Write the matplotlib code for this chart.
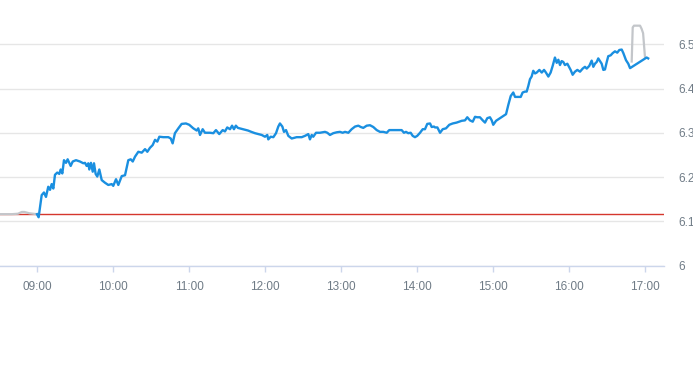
import matplotlib.pyplot as plt

# minutes after 09:00 and price
minutes = [0, 1.3, 3.7, 5.5, 7.1, 8.9, 10.3, 11.6, 12.9, 14.2, 16.0, 17.6, 18.7, 20.0,
           21.3, 22.9, 24.2, 25.5, 26.6, 28.2, 30.8, 33.9, 36.6, 37.9, 39.2, 40.5, 41.3,
           42.6, 44.0, 45.0, 46.3, 47.6, 49.2, 51.1, 53.7, 56.3, 59.0, 60.2, 62.4, 64.2,
           66.9, 69.5, 72.1, 74.0, 75.6, 77.4, 80.0, 82.7, 85.3, 87.1, 89.2, 91.3, 93.2,
           95.0, 96.6, 99.7, 103.7, 105.6, 107.1, 108.9, 111.6, 114.2, 117.6, 120.2,
           123.4, 126.1, 127.3, 128.7, 130.8, 132.6, 136.6, 139.2, 141.3, 143.9, 146.6,
           148.4, 150.2, 152.4, 154.0, 155.5, 157.0, 158.6, 162.6, 166.6, 169.2, 172.1,
           174.7, 177.4, 180.0, 181.8, 182.6, 184.5, 186.6, 188.7, 190.5, 191.8, 193.7,
           195.0, 196.6, 198.4, 201.1, 205.0, 209.0, 211.6, 214.2, 215.5, 216.9, 218.1,
           220.3, 223.4, 227.4, 229.2, 231.3, 233.9, 236.6, 239.2, 241.3, 243.2, 245.8,
           248.4, 251.1, 253.7, 255.6, 257.6, 260.3, 262.9, 265.5, 268.2, 270.8, 273.4,
           276.1, 278.1, 281.3, 285.2, 287.9, 289.7, 291.3, 293.1, 295.0, 296.6, 298.4,
           300.2, 302.4, 304.5, 306.3, 308.1, 310.3, 311.6, 313.4, 314.2, 316.1, 318.2,
           320.3, 322.9, 325.5, 328.2, 331.3, 335.3, 337.9, 339.7, 341.8, 344.0, 345.8,
           347.6, 349.7, 351.9, 353.7, 355.5, 357.6, 359.0, 360.2, 362.4, 365.5, 368.1,
           370.3, 372.1, 374.0, 376.0, 377.4, 379.2, 381.9, 383.4, 385.3, 386.6, 387.9,
           389.2, 390.5, 391.8, 393.2, 394.5, 396.6, 398.5, 400.3, 401.8, 403.7, 405.5,
           407.1, 408.9, 410.3, 411.6, 412.9, 414.2, 415.5, 416.8, 418.7, 420.2, 421.3,
           422.9, 424.7, 426.6, 428.7, 430.8, 432.6, 434.0, 436.0, 437.9, 439.2, 440.5,
           441.9, 443.1, 444.5, 445.8, 447.1, 448.4, 449.8, 451.0, 452.9, 454.5, 456.3,
           458.1, 459.7, 461.6, 462.9, 465.0, 466.8, 468.2, 479.2, 481.3, 482.5]
prices = [6.116, 6.109, 6.159, 6.165, 6.155, 6.178, 6.171, 6.184, 6.174, 6.205, 6.210, 6.207,
          6.217, 6.208, 6.238, 6.232, 6.240, 6.232, 6.225, 6.235, 6.238, 6.235, 6.231, 6.232,
          6.225, 6.231, 6.217, 6.232, 6.212, 6.231, 6.207, 6.201, 6.217, 6.193, 6.187, 6.182,
          6.184, 6.180, 6.195, 6.182, 6.202, 6.204, 6.238, 6.240, 6.235, 6.246, 6.257, 6.255,
          6.263, 6.257, 6.266, 6.272, 6.284, 6.280, 6.291, 6.290, 6.290, 6.287, 6.276, 6.299,
          6.310, 6.320, 6.321, 6.318, 6.310, 6.305, 6.310, 6.295, 6.308, 6.300, 6.300, 6.299,
          6.306, 6.297, 6.306, 6.303, 6.312, 6.308, 6.316, 6.308, 6.316, 6.311, 6.308, 6.305,
          6.302, 6.299, 6.297, 6.295, 6.291, 6.295, 6.285, 6.291, 6.290, 6.299, 6.314, 6.321,
          6.314, 6.302, 6.306, 6.293, 6.287, 6.290, 6.290, 6.293, 6.297, 6.285, 6.295, 6.291,
          6.300, 6.300, 6.302, 6.300, 6.295, 6.299, 6.301, 6.302, 6.300, 6.302, 6.300, 6.308,
          6.314, 6.316, 6.313, 6.311, 6.316, 6.317, 6.313, 6.306, 6.302, 6.302, 6.300, 6.306,
          6.306, 6.306, 6.306, 6.300, 6.302, 6.299, 6.300, 6.293, 6.290, 6.293, 6.300, 6.308,
          6.308, 6.320, 6.321, 6.313, 6.314, 6.312, 6.312, 6.300, 6.308, 6.310, 6.318, 6.321,
          6.323, 6.327, 6.328, 6.335, 6.328, 6.325, 6.336, 6.335, 6.335, 6.328, 6.323, 6.333,
          6.335, 6.328, 6.318, 6.327, 6.333, 6.338, 6.342, 6.363, 6.383, 6.391, 6.381, 6.381,
          6.381, 6.391, 6.393, 6.393, 6.406, 6.421, 6.427, 6.440, 6.434, 6.436, 6.442, 6.436,
          6.442, 6.436, 6.427, 6.436, 6.451, 6.470, 6.458, 6.465, 6.453, 6.462, 6.460, 6.453,
          6.456, 6.448, 6.442, 6.431, 6.438, 6.442, 6.438, 6.445, 6.449, 6.445, 6.451, 6.463,
          6.449, 6.456, 6.460, 6.468, 6.462, 6.456, 6.442, 6.443, 6.460, 6.473, 6.475, 6.480,
          6.484, 6.481, 6.487, 6.488, 6.480, 6.464, 6.456, 6.446, 6.466, 6.470, 6.468]

# grey segments outside the session (pre-open and closing auction)
pre_minutes = [-29, -20, -15, -12, -10, -6, -3, 0]
pre_prices = [6.116, 6.116, 6.117, 6.121, 6.121, 6.118, 6.117, 6.116]
post_minutes = [469.5, 470.3, 471.3, 476.1, 477.3, 478.5, 480.0]
post_prices = [6.461, 6.538, 6.542, 6.542, 6.535, 6.525, 6.470]

prev_close = 6.116

hour_ticks = [0, 60, 120, 180, 240, 300, 360, 420, 480]
hour_labels = ["09:00", "10:00", "11:00", "12:00", "13:00", "14:00", "15:00", "16:00", "17:00"]
price_ticks = [6.0, 6.1, 6.2, 6.3, 6.4, 6.5]
price_labels = ["6", "6.1", "6.2", "6.3", "6.4", "6.5"]

plt.rcParams['font.family'] = ['Liberation Sans', 'DejaVu Sans']

fig = plt.figure(figsize=(6.93, 3.65), dpi=100)
ax = fig.add_axes([0, 0.2726, 664 / 693, 0.7274])

ax.plot(pre_minutes, pre_prices, color="#c3c6ca", lw=1.6, zorder=3)
ax.plot(post_minutes, post_prices, color="#c3c6ca", lw=1.6, zorder=3)
ax.plot(minutes, prices, color="#1a8fe0", lw=1.7, zorder=4)
ax.axhline(prev_close, color="#d5372d", lw=1, zorder=2)

ax.set_xlim(-29.2, 495)
ax.set_ylim(6.0, 6.6)

ax.set_xticks(hour_ticks)
ax.set_xticklabels(hour_labels)
ax.set_yticks(price_ticks)
ax.set_yticklabels(price_labels)
ax.yaxis.tick_right()

ax.grid(axis="y", color="#e6e6e6", lw=1)
ax.set_axisbelow(True)
for s in ["top", "left", "right"]:
    ax.spines[s].set_visible(False)
ax.spines["bottom"].set_color("#ccd6eb")
ax.spines["bottom"].set_linewidth(1)

ax.tick_params(axis="x", colors="#ccd6eb", length=4, width=1, pad=7,
               labelcolor="#6f7b86", labelsize=8.5)
ax.tick_params(axis="y", length=0, pad=10, labelcolor="#6f7b86", labelsize=8.5)
for lbl in ax.get_yticklabels():
    lbl.set_horizontalalignment("left")

fig.savefig("out.png", dpi=100)
